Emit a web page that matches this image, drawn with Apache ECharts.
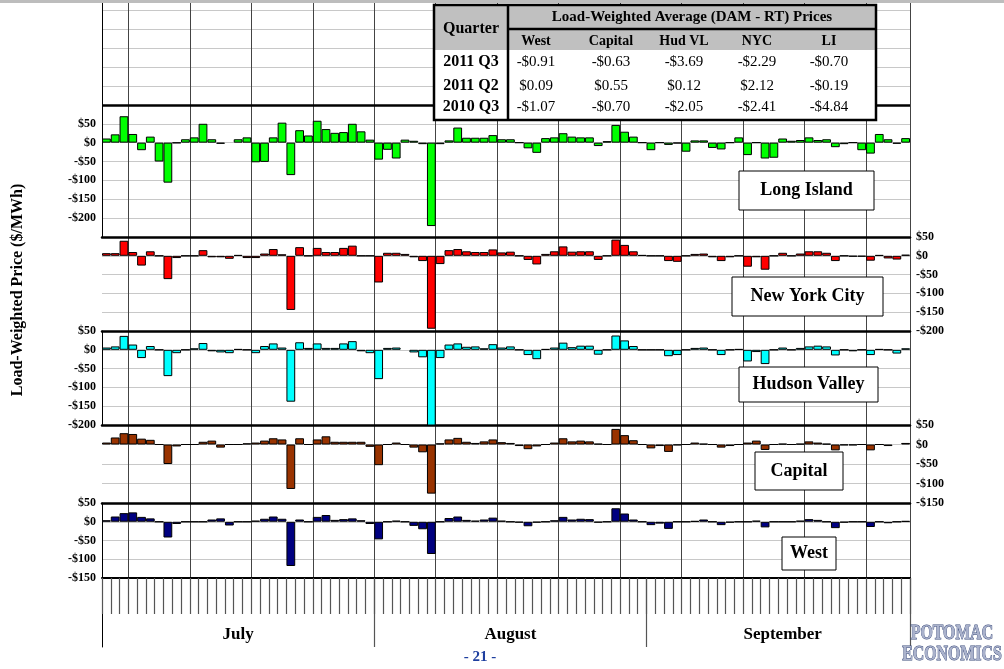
<!DOCTYPE html>
<html>
<head>
<meta charset="utf-8">
<title>Load-Weighted DAM - RT Prices</title>
<script src="https://cdn.jsdelivr.net/npm/echarts@6.0.0/dist/echarts.min.js"></script>
<style>
  body { margin: 0; background: #fff; }
  #chart { width: 1004px; height: 669px; }
</style>
</head>
<body>
<div id="chart"></div>
<script>
// daily (DAM - RT) prices, July 1 - Sep 30 2011
var longIsland = [11,22,70,23,-20,16,-50,-106,-1,9,14,50,9,-3,null,9,14,-52,-51,14,53,-86,33,19,58,36,26,28,50,30,8,-45,-19,-42,8,5,-4,-221,-4,6,40,13,13,13,20,
  9,9,0,-15,-27,12,14,25,16,14,14,-9,4,47,29,16,0,-20,0,-6,-2,-24,6,6,-14,-18,0,14,-33,0,-42,-40,11,5,7,14,7,9,-12,-4,0,-20,-29,23,9,-3,12];
var newYorkCity = [7,7,40,10,-26,12,0,-62,-6,0,0,15,-4,-4,-8,2,-6,-6,6,18,4,-144,23,0,21,10,10,21,27,0,0,-71,8,8,5,-4,-14,-194,-22,15,18,12,10,10,17,
  9,11,0,-11,-23,5,12,25,11,12,12,-11,0,43,29,12,2,0,0,-14,-16,0,5,6,-4,-14,-4,0,-29,-4,-37,0,8,0,6,12,12,8,-14,0,-2,-2,-13,2,-7,-10,3];
var hudsonValley = [6,9,37,14,-22,10,0,-70,-9,0,4,18,-4,-7,-9,2,0,-9,10,17,6,-138,20,5,17,5,5,17,23,-4,-9,-78,5,6,null,-7,-20,-205,-22,14,17,8,9,4,15,
  6,9,0,-14,-25,2,6,19,7,11,11,-13,0,38,25,10,0,0,0,-17,-14,0,5,6,0,-14,0,2,-31,-6,-38,0,6,0,5,9,11,9,-15,0,-4,0,-14,2,0,-10,4];
var capital = [5,18,29,27,15,12,0,-50,-5,0,0,7,10,-8,0,0,3,5,10,16,13,-114,16,0,13,21,7,7,7,7,-6,-53,0,5,0,-8,-20,-126,3,13,17,7,4,8,13,
  6,4,-4,-12,-5,0,5,16,8,10,8,2,0,40,24,11,0,-10,-4,-19,-2,0,5,2,0,-8,-4,0,5,10,-14,0,2,0,2,8,5,2,-15,-2,-2,0,-15,0,-4,null,4];
var west = [4,14,23,25,13,9,0,-42,-6,0,0,0,6,9,-10,0,0,3,8,14,8,-118,6,0,13,18,5,7,9,4,-6,-47,0,3,0,-11,-20,-86,0,10,14,5,3,6,11,
  3,0,-2,-12,-2,0,4,13,6,8,7,-2,0,36,22,6,0,-9,-5,-19,0,0,2,6,0,-9,-2,0,0,3,-15,0,0,0,3,7,5,0,-17,-2,0,0,-14,0,-4,0,2];

var months = ['July', 'August', 'September'];
var monthDays = [31, 31, 30];
var tableCols = ['West', 'Capital', 'Hud VL', 'NYC', 'LI'];
var tableRows = ['2011 Q3', '2011 Q2', '2010 Q3'];
var tableVals = [
  ['-$0.91', '-$0.63', '-$3.69', '-$2.29', '-$0.70'],
  ['$0.09', '$0.55', '$0.12', '$2.12', '-$0.19'],
  ['-$1.07', '-$0.70', '-$2.05', '-$2.41', '-$4.84']
];

var days = [];
var monthMid = {};
var monthStart = {};
var k = 0;
monthDays.forEach(function (n, m) {
  monthStart[k] = true;
  monthMid[k + Math.floor(n / 2)] = months[m];
  for (var d = 1; d <= n; d++) { days.push((m + 7) + '/' + d); }
  k += n;
});

var serif = 'Liberation Serif';
var panels = [
  { name: 'Long Island', data: longIsland, color: '#00ff00', top: 0, bottom: 432, min: -250, max: 378, lo: -200, hi: 50, side: 'left' },
  { name: 'New York City', data: newYorkCity, color: '#ff0000', top: 237, bottom: 338, min: -200, max: 50, lo: -200, hi: 50, side: 'right' },
  { name: 'Hudson Valley', data: hudsonValley, color: '#00ffff', top: 331, bottom: 244, min: -200, max: 50, lo: -200, hi: 50, side: 'left' },
  { name: 'Capital', data: capital, color: '#993300', top: 425, bottom: 166, min: -150, max: 50, lo: -150, hi: 50, side: 'right' },
  { name: 'West', data: west, color: '#000080', top: 503, bottom: 91, min: -150, max: 50, lo: -150, hi: 50, side: 'left' }
];

function money(v) { return v < 0 ? '-$' + Math.abs(v) : '$' + v; }

var grids = [], xAxes = [], yAxes = [], series = [];
panels.forEach(function (p, i) {
  grids.push({ left: 102, right: 94, top: p.top, bottom: p.bottom });
  xAxes.push({
    type: 'category', gridIndex: i, data: days, position: 'top',
    axisLine: { show: i > 0, onZero: false, lineStyle: { color: '#000', width: 2.5 } },
    axisTick: { show: false }, axisLabel: { show: false },
    splitLine: { show: true, interval: function (idx) { return idx % 7 === 3; }, lineStyle: { color: '#444', width: 1 } }
  });
  yAxes.push({
    type: 'value', gridIndex: i, min: p.min, max: p.max, interval: 50, position: p.side,
    axisLine: { show: i % 2 === 0, lineStyle: { color: '#000', width: 1 } }, axisTick: { show: false },
    axisLabel: {
      show: true, fontFamily: serif, fontWeight: 'bold', fontSize: 12, color: '#000', margin: 6,
      formatter: function (v) { return (v >= p.lo && v <= p.hi) ? money(v) : ''; }
    },
    splitLine: { lineStyle: { color: '#c8c8c8', width: 1.2 } }
  });
  var s = {
    type: 'bar', name: p.name, xAxisIndex: i, yAxisIndex: i, data: p.data,
    barCategoryGap: '0%', animation: false,
    itemStyle: { color: p.color, borderColor: '#000', borderWidth: 1 }
  };
  if (i === 0) {
    s.markLine = { silent: true, symbol: 'none', label: { show: false },
      lineStyle: { color: '#000', width: 2.5, type: 'solid' }, data: [{ yAxis: 100 }] };
  }
  series.push(s);
});

// date tick strip
grids.push({ left: 102, right: 94, top: 578, bottom: 22 });
xAxes.push({
  type: 'category', gridIndex: 5, data: days, position: 'top',
  axisLine: { onZero: false, lineStyle: { color: '#000', width: 2 } },
  axisTick: { show: true, interval: 0, inside: true, length: 36, lineStyle: { color: '#555', width: 1.2 } },
  axisLabel: { show: false },
  splitLine: { show: true, interval: function (idx) { return !!monthStart[idx] && idx > 0; }, lineStyle: { color: '#555', width: 1.2 } }
});
yAxes.push({ type: 'value', gridIndex: 5, min: 0, max: 1, axisLine: { show: true, lineStyle: { color: '#000' } },
  axisTick: { show: false }, axisLabel: { show: false }, splitLine: { show: false } });
series.push({ type: 'bar', xAxisIndex: 5, yAxisIndex: 5, data: [], silent: true });

// month labels
grids.push({ left: 102, right: 94, top: 578, bottom: 22 });
xAxes.push({
  type: 'category', gridIndex: 6, data: days, position: 'bottom',
  axisLine: { show: false }, axisTick: { show: false }, splitLine: { show: false },
  axisLabel: {
    show: true, inside: true, margin: 4, interval: 0, fontFamily: serif, fontWeight: 'bold', fontSize: 17, color: '#000',
    formatter: function (v, idx) { return monthMid[idx] || ''; }
  }
});
yAxes.push({ type: 'value', gridIndex: 6, min: 0, max: 1, show: false });
series.push({ type: 'bar', xAxisIndex: 6, yAxisIndex: 6, data: [], silent: true });

// table + labels
var g = [];
function add(el) { el.z = 100; g.push(el); }
add({ type: 'rect', shape: { x: 0, y: 0, width: 1004, height: 3 }, style: { fill: '#bdbdbd' } });
var tx = 434, tw = 442, ty = 5;
add({ type: 'rect', shape: { x: tx, y: ty, width: tw, height: 45 }, style: { fill: '#c0c0c0' } });
add({ type: 'rect', shape: { x: tx, y: 50, width: tw, height: 70 }, style: { fill: '#fff' } });
add({ type: 'rect', shape: { x: tx, y: ty, width: tw, height: 115 }, style: { fill: 'none', stroke: '#000', lineWidth: 2.5 } });
add({ type: 'line', shape: { x1: 508, y1: ty, x2: 508, y2: 120 }, style: { stroke: '#000', lineWidth: 2.5 } });
add({ type: 'line', shape: { x1: 508, y1: 29, x2: 876, y2: 29 }, style: { stroke: '#000', lineWidth: 2.5 } });
add({ type: 'text', x: 471, y: 29, style: { text: 'Quarter', font: 'bold 16px ' + serif, fill: '#000', align: 'center', verticalAlign: 'middle' } });
add({ type: 'text', x: 692, y: 17, style: { text: 'Load-Weighted Average (DAM - RT) Prices', font: 'bold 15px ' + serif, fill: '#000', align: 'center', verticalAlign: 'middle' } });
var colX = [536, 611, 684, 757, 829];
tableCols.forEach(function (c, j) {
  add({ type: 'text', x: colX[j], y: 41, style: { text: c, font: 'bold 14px ' + serif, fill: '#000', align: 'center', verticalAlign: 'middle' } });
});
var rowY = [62, 86, 107];
tableRows.forEach(function (r, i) {
  add({ type: 'text', x: 471, y: rowY[i], style: { text: r, font: 'bold 16px ' + serif, fill: '#000', align: 'center', verticalAlign: 'middle' } });
  tableVals[i].forEach(function (v, j) {
    add({ type: 'text', x: colX[j], y: rowY[i], style: { text: v, font: '15px ' + serif, fill: '#000', align: 'center', verticalAlign: 'middle' } });
  });
});
var boxes = [
  ['Long Island', 739, 171, 135, 39], ['New York City', 732, 277, 151, 39], ['Hudson Valley', 739, 367, 139, 35],
  ['Capital', 755, 452, 88, 38], ['West', 782, 537, 54, 33]
];
boxes.forEach(function (b) {
  add({ type: 'rect', shape: { x: b[1], y: b[2], width: b[3], height: b[4] }, style: { fill: '#fff', stroke: '#000', lineWidth: 1 } });
  add({ type: 'text', x: b[1] + b[3] / 2, y: b[2] + b[4] / 2, style: { text: b[0], font: 'bold 18px ' + serif, fill: '#000', align: 'center', verticalAlign: 'middle' } });
});
add({ type: 'text', x: 18, y: 290, rotation: Math.PI / 2, style: { text: 'Load-Weighted Price ($/MWh)', font: 'bold 16px ' + serif, fill: '#000', align: 'center', verticalAlign: 'middle' } });
add({ type: 'text', x: 480, y: 657, style: { text: '- 21 -', font: 'bold 15px ' + serif, fill: '#1f3f9f', align: 'center', verticalAlign: 'middle' } });
add({ type: 'text', x: 952, y: 633, scaleX: 0.72, style: { text: 'POTOMAC', font: 'bold 22px ' + serif, fill: '#aab2cc', stroke: '#3a4a7a', lineWidth: 1, align: 'center', verticalAlign: 'middle' } });
add({ type: 'text', x: 952, y: 654, scaleX: 0.72, style: { text: 'ECONOMICS', font: 'bold 22px ' + serif, fill: '#aab2cc', stroke: '#3a4a7a', lineWidth: 1, align: 'center', verticalAlign: 'middle' } });

var chart = echarts.init(document.getElementById('chart'));
chart.setOption({
  animation: false,
  backgroundColor: '#fff',
  grid: grids, xAxis: xAxes, yAxis: yAxes, series: series,
  graphic: g
});
</script>
</body>
</html>
